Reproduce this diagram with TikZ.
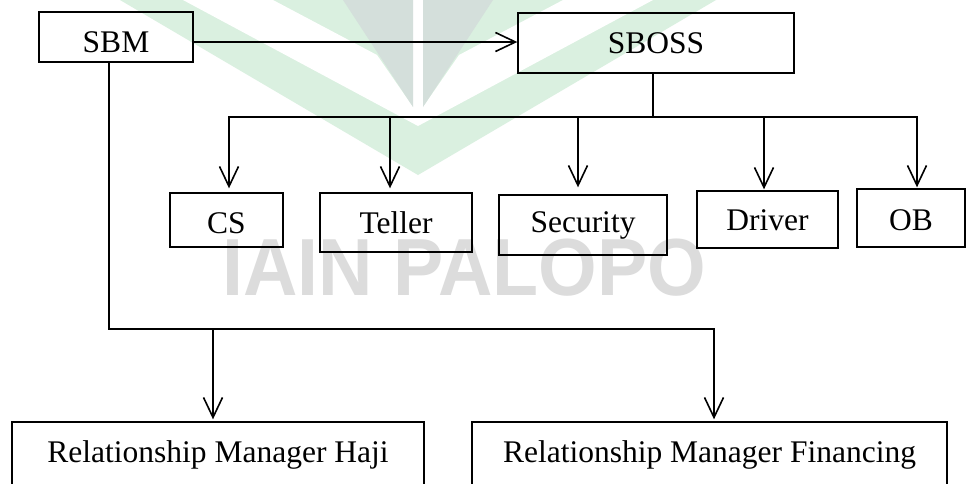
\documentclass[tikz,border=0pt]{standalone}
\usepackage{fontspec}
\setmainfont{Liberation Serif}
\newfontfamily\wmfont{Liberation Sans}
\usetikzlibrary{arrows.meta}
\definecolor{wmgreen}{HTML}{DAF0E0}
\definecolor{wmgray}{HTML}{D4DFDB}
\definecolor{wmtext}{HTML}{DCDCDC}
\begin{document}
\begin{tikzpicture}[x=1pt,y=-1pt,
  box/.style={draw=black, line width=1.4pt, inner sep=0pt,
    font=\fontsize{31.5}{36}\selectfont, text depth=0pt},
  conn/.style={draw=black, line width=1.6pt},
  arr/.style={conn, -{Straight Barb[length=20pt,width=19pt,line width=1.6pt]}},
  wmtextstyle/.style={anchor=base west, inner sep=0pt, text=wmtext,
    text height=58pt, text depth=0pt,
    font=\wmfont\bfseries\fontsize{81}{81}\selectfont, xscale=0.93}
]
\path[use as bounding box] (0,0) rectangle (966,483);
\clip (0,0) rectangle (966,483);
\fill[white] (0,0) rectangle (966,483);

% watermark (logo and name)
\fill[wmgreen] (120,0) -- (716,0) -- (418,175) -- cycle;
\fill[white] (183,0) -- (273,0) -- (377,55) -- (413,107) -- (413,0) -- (423,0)
  -- (423,107) -- (459,55) -- (563,0) -- (653,0) -- (418,126) -- cycle;
\fill[wmgray] (343,0) -- (413,0) -- (413,107) -- cycle;
\fill[wmgray] (423,0) -- (493,0) -- (423,107) -- cycle;
\node[wmtextstyle] (wm) at (222,295) {IAIN PALOPO};

% boxes
\node[box, minimum width=154pt, minimum height=50pt, text height=30pt] (sbm) at (116,37) {SBM};
\node[box, minimum width=276pt, minimum height=60pt, text height=20pt] (sboss) at (656,43) {SBOSS};
\node[box, minimum width=113pt, minimum height=54pt, text height=26pt] (cs) at (226.5,220) {CS};
\node[box, minimum width=152pt, minimum height=59pt, text height=21pt] (teller) at (396,222.5) {Teller};
\node[box, minimum width=168pt, minimum height=60pt, text height=14pt] (security) at (583,225) {Security};
\node[box, minimum width=141pt, minimum height=57pt, text height=21pt] (driver) at (767.5,219.5) {Driver};
\node[box, minimum width=108pt, minimum height=58pt, text height=24pt] (ob) at (911,218) {OB};
\node[box, minimum width=412pt, minimum height=118pt, text height=21pt, text depth=59pt] (rmh) at (218,481) {Relationship Manager Haji};
\node[box, minimum width=475pt, minimum height=118pt, text height=21pt, text depth=59pt] (rmf) at (709.5,481) {Relationship Manager Financing};

% SBM -> SBOSS
\coordinate (ay) at (0,42);
\draw[arr] (sbm.east |- ay) -- (sboss.west |- ay);

% SBOSS bus
\coordinate (bl) at (229,117);
\coordinate (br) at (917,117);
\coordinate (bm) at (653,117);
\coordinate (d2) at (390,117);
\coordinate (d3) at (578,117);
\coordinate (d4) at (764,117);
\draw[conn] (bm |- sboss.south) -- (bm);
\draw[conn, line cap=rect] (bl) -- (br);
\draw[arr, shorten >=4pt] (bl) -- (bl |- cs.north);
\draw[arr, shorten >=4pt] (d2) -- (d2 |- teller.north);
\draw[arr, shorten >=7pt] (d3) -- (d3 |- security.north);
\draw[arr, shorten >=1pt] (d4) -- (d4 |- driver.north);
\draw[arr, shorten >=1pt] (br) -- (br |- ob.north);

% SBM bus
\coordinate (sx) at (109,329);
\coordinate (sr) at (714,329);
\coordinate (e1) at (213,329);
\draw[conn, line cap=rect] (sbm.south -| sx) -- (sx) -- (sr);
\draw[arr, shorten >=2pt] (e1) -- (e1 |- rmh.north);
\draw[arr, shorten >=2pt] (sr) -- (sr |- rmf.north);
\end{tikzpicture}
\end{document}
